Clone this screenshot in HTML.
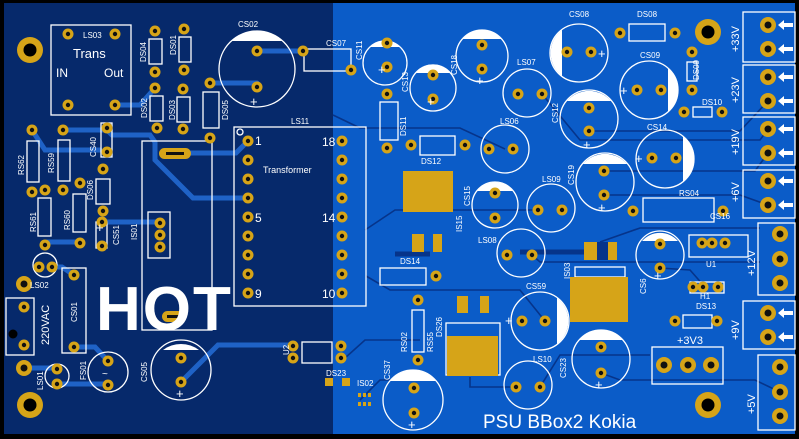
<!DOCTYPE html>
<html><head><meta charset="utf-8"><style>
html,body{margin:0;padding:0;background:#000;}
svg{display:block;}
text{font-family:"Liberation Sans",sans-serif;fill:#fff;}
</style></head><body>
<svg width="799" height="439" viewBox="0 0 799 439" xmlns="http://www.w3.org/2000/svg">
<defs>
<g id="p"><circle r="5.5" fill="#d6a418"/><circle r="2.2" fill="#111"/></g>
<g id="pl"><circle r="8" fill="#d6a418"/><circle r="3.5" fill="#111"/></g>
<g id="mh"><circle r="13" fill="#d6a418"/><circle r="6.5" fill="#000"/></g>
<g id="ar"><path d="M0,0 l6,-5 v3 h9 v4 h-9 v3 z" fill="#fff"/></g>
</defs>
<rect width="799" height="439" fill="#000"/>
<rect x="4" y="3" width="330" height="431" fill="#06296b"/>
<rect x="333" y="3" width="462" height="431" fill="#0b5cc8"/>

<!-- traces left (light) -->
<g stroke="#1f62c6" stroke-width="5" fill="none" stroke-linecap="round">
<path d="M115,105 H140 L155,88"/>
<path d="M257,51 H303"/><path d="M210,83 H257"/>
<path d="M63,130 H107 L112,135 H150 L155,142 V160 L193,198 H248"/>
<path d="M32,130 L45,150 H100"/>
<path d="M175,153 H236 L248,141"/>
<path d="M45,248 L48,242 H80"/><path d="M52,267 L62,267 L74,275"/>
<path d="M74,347 H95 L108,361"/><path d="M57,369 H60"/><path d="M57,384 H108"/>
<path d="M181,382 L218,345 H293"/>
<path d="M102,222 H160"/>
<path d="M24,368 H57"/>
</g>
<!-- traces right (dark) -->
<g stroke="#06348a" stroke-width="1.6" fill="none">
<path d="M333,115 L360,128 H460 L505,149"/>
<path d="M542,94 L580,140 H760 L768,129"/>
<path d="M589,131 H740 L768,101"/>
<path d="M604,171 H755 L768,153"/>
<path d="M604,195 H740 L768,205"/>
<path d="M538,210 H395 L365,230"/>
<path d="M532,255 L540,262 H700 L760,262"/>
<path d="M366,276 L390,290 H520 L545,321"/>
<path d="M601,373 L620,380 H755 L780,392"/>
<path d="M516,387 H470 V377"/>
<path d="M540,387 L560,355 H650"/>
<path d="M420,380 L380,380 L360,400"/>
<path d="M600,242 L640,228 H760"/>
<path d="M660,268 L690,270 L705,287"/>
<path d="M345,358 L365,340 H420"/>
</g>
<path d="M395,254 H430 M520,252 H600" stroke="#06348a" stroke-width="5"/>
<rect x="590" y="242" width="20" height="18" fill="#06348a"/>

<!-- outlines -->
<g stroke="#fff" stroke-width="1.3" fill="none">
<rect x="51" y="25" width="80" height="90"/>
<rect x="149" y="39" width="13" height="25"/><rect x="179" y="37" width="12" height="25"/>
<rect x="150" y="96" width="13" height="25"/><rect x="177" y="97" width="13" height="25"/>
<rect x="203" y="92" width="16" height="36"/>
<rect x="304" y="49" width="47" height="22"/>
<rect x="234" y="127" width="132" height="179"/>
<rect x="142" y="141" width="70" height="189"/>
<rect x="148" y="212" width="22" height="46"/>
<rect x="101" y="123" width="11" height="34"/>
<rect x="27" y="141" width="12" height="41"/><rect x="58" y="140" width="12" height="41"/>
<rect x="96" y="179" width="14" height="25"/>
<rect x="38" y="198" width="13" height="38"/><rect x="73" y="194" width="13" height="38"/>
<rect x="96" y="222" width="11" height="26"/>
<rect x="62" y="268" width="24" height="85"/>
<rect x="6" y="298" width="28" height="57"/>
<rect x="302" y="342" width="30" height="21"/>
<rect x="380" y="102" width="18" height="38"/>
<rect x="420" y="136" width="35" height="19"/>
<rect x="629" y="24" width="36" height="17"/>
<rect x="687" y="62" width="10" height="19"/>
<rect x="693" y="107" width="19" height="10"/>
<rect x="643" y="198" width="71" height="24"/>
<rect x="689" y="235" width="59" height="22"/>
<rect x="690" y="282" width="34" height="11"/>
<rect x="683" y="315" width="29" height="13"/>
<rect x="652" y="347" width="71" height="37"/>
<rect x="412" y="310" width="12" height="42"/>
<rect x="380" y="268" width="46" height="17"/>
<rect x="446" y="323" width="54" height="52"/>
<rect x="575" y="267" width="50" height="10"/>
<rect x="743" y="12" width="52" height="50"/><rect x="743" y="65" width="52" height="48"/>
<rect x="743" y="117" width="52" height="48"/><rect x="743" y="170" width="52" height="48"/>
<rect x="758" y="223" width="37" height="72"/>
<rect x="743" y="301" width="52" height="48"/>
<rect x="758" y="355" width="37" height="75"/>
<circle cx="257" cy="69" r="38"/>
<circle cx="385" cy="63" r="22"/>
<circle cx="45" cy="265" r="12"/>
<circle cx="57" cy="376" r="12"/>
<circle cx="108" cy="372" r="20"/>
<circle cx="181" cy="370" r="30"/>
<circle cx="482" cy="56" r="26"/>
<circle cx="433" cy="88" r="23"/>
<circle cx="527" cy="93" r="24"/>
<circle cx="579" cy="53" r="29"/>
<circle cx="649" cy="90" r="29"/>
<circle cx="505" cy="149" r="24"/>
<circle cx="589" cy="119" r="29"/>
<circle cx="665" cy="159" r="29"/>
<circle cx="495" cy="205" r="23"/>
<circle cx="551" cy="208" r="24"/>
<circle cx="605" cy="182" r="29"/>
<circle cx="521" cy="253" r="24"/>
<circle cx="660" cy="255" r="24"/>
<circle cx="540" cy="321" r="29"/>
<circle cx="528" cy="385" r="24"/>
<circle cx="601" cy="359" r="29"/>
<circle cx="413" cy="400" r="30"/>
<circle cx="240" cy="132" r="3"/>
</g>
<!-- white caps -->
<g fill="#fff">
<path d="M231,41 A38,38 0 0,1 283,41 Z"/>
<path d="M370,47 A22,22 0 0,1 400,47 Z"/>
<path d="M163,350 A30,30 0 0,1 199,350 Z"/>
<path d="M462,39 A26,26 0 0,1 502,39 Z"/>
<path d="M415,73 A23,23 0 0,1 451,73 Z"/>
<path d="M562,30 A29,29 0 0,0 562,76 Z"/>
<path d="M668,68 A29,29 0 0,1 668,112 Z"/>
<path d="M567,101 A29,29 0 0,1 611,101 Z"/>
<path d="M683,136 A29,29 0 0,1 683,182 Z"/>
<path d="M477,191 A23,23 0 0,1 513,191 Z"/>
<path d="M583,164 A29,29 0 0,1 627,164 Z"/>
<path d="M642,241 A24,24 0 0,1 678,241 Z"/>
<path d="M557,298 A29,29 0 0,1 557,344 Z"/>
<path d="M579,340 A29,29 0 0,1 623,340 Z"/>
<path d="M390,381 A30,30 0 0,1 436,381 Z"/>
</g>
<!-- SMD pads -->
<g fill="#d6a418">
<rect x="403" y="171" width="50" height="41"/>
<rect x="412" y="234" width="12" height="18"/><rect x="433" y="234" width="9" height="18"/>
<rect x="457" y="296" width="11" height="17"/><rect x="480" y="296" width="9" height="17"/>
<rect x="584" y="242" width="13" height="18"/><rect x="608" y="242" width="9" height="18"/>
<rect x="570" y="277" width="58" height="45"/>
<rect x="447" y="336" width="51" height="40"/>
<rect x="325" y="378" width="8" height="8"/><rect x="342" y="378" width="8" height="8"/>
<rect x="358" y="393" width="3" height="4"/><rect x="363" y="393" width="3" height="4"/><rect x="368" y="393" width="3" height="4"/>
<rect x="358" y="402" width="3" height="4"/><rect x="363" y="402" width="3" height="4"/><rect x="368" y="402" width="3" height="4"/>
<rect x="159" y="148" width="32" height="11" rx="5.5"/>
<rect x="162" y="311" width="24" height="11" rx="5.5"/>
</g>
<rect x="166" y="152" width="18" height="3" fill="#111"/>
<rect x="167" y="315" width="14" height="3" fill="#111"/>

<!-- pads -->
<g>
<use href="#mh" x="30" y="50"/><use href="#mh" x="30" y="405"/>
<use href="#mh" x="708" y="405"/><use href="#mh" x="708" y="32"/>
<use href="#p" x="68" y="34"/><use href="#p" x="115" y="34"/><use href="#p" x="68" y="105"/><use href="#p" x="115" y="105"/>
<use href="#p" x="155" y="31"/><use href="#p" x="155" y="72"/><use href="#p" x="184" y="29"/><use href="#p" x="184" y="70"/>
<use href="#p" x="155" y="88"/><use href="#p" x="157" y="128"/><use href="#p" x="183" y="89"/><use href="#p" x="183" y="129"/>
<use href="#p" x="210" y="83"/><use href="#p" x="210" y="138"/>
<use href="#p" x="257" y="51"/><use href="#p" x="257" y="87"/>
<use href="#p" x="303" y="51"/><use href="#p" x="351" y="70"/>
<use href="#p" x="387" y="43"/><use href="#p" x="387" y="67"/>
<use href="#p" x="248" y="141"/><use href="#p" x="248" y="160"/><use href="#p" x="248" y="179"/><use href="#p" x="248" y="198"/><use href="#p" x="248" y="217"/><use href="#p" x="248" y="236"/><use href="#p" x="248" y="255"/><use href="#p" x="248" y="274"/><use href="#p" x="248" y="293"/>
<use href="#p" x="342" y="141"/><use href="#p" x="342" y="160"/><use href="#p" x="342" y="179"/><use href="#p" x="342" y="198"/><use href="#p" x="342" y="217"/><use href="#p" x="342" y="236"/><use href="#p" x="342" y="255"/><use href="#p" x="342" y="274"/><use href="#p" x="342" y="293"/>
<use href="#p" x="107" y="128"/><use href="#p" x="107" y="152"/>
<use href="#p" x="32" y="130"/><use href="#p" x="32" y="192"/><use href="#p" x="63" y="130"/><use href="#p" x="63" y="190"/>
<use href="#p" x="103" y="169"/><use href="#p" x="103" y="211"/>
<use href="#p" x="45" y="190"/><use href="#p" x="80" y="183"/>
<use href="#p" x="45" y="245"/><use href="#p" x="80" y="243"/>
<use href="#p" x="102" y="222"/><use href="#p" x="102" y="246"/>
<use href="#p" x="160" y="223"/><use href="#p" x="160" y="235"/><use href="#p" x="160" y="247"/>
<use href="#p" x="39" y="267"/><use href="#p" x="52" y="267"/>
<use href="#p" x="74" y="275"/><use href="#p" x="74" y="347"/>
<use href="#pl" x="24" y="284"/><use href="#pl" x="24" y="368"/>
<use href="#p" x="24" y="307"/><use href="#p" x="24" y="345"/>
<use href="#p" x="57" y="369"/><use href="#p" x="57" y="384"/>
<use href="#p" x="108" y="361"/><use href="#p" x="108" y="385"/>
<use href="#p" x="181" y="358"/><use href="#p" x="181" y="382"/>
<use href="#p" x="293" y="346"/><use href="#p" x="293" y="358"/><use href="#p" x="341" y="346"/><use href="#p" x="341" y="358"/>
<use href="#p" x="387" y="94"/><use href="#p" x="387" y="148"/>
<use href="#p" x="482" y="45"/><use href="#p" x="482" y="69"/>
<use href="#p" x="433" y="75"/><use href="#p" x="433" y="99"/>
<use href="#p" x="518" y="94"/><use href="#p" x="542" y="94"/>
<use href="#p" x="567" y="52"/><use href="#p" x="591" y="52"/>
<use href="#p" x="620" y="33"/><use href="#p" x="675" y="33"/>
<use href="#p" x="637" y="90"/><use href="#p" x="661" y="90"/>
<use href="#p" x="692" y="52"/><use href="#p" x="692" y="90"/>
<use href="#p" x="684" y="112"/><use href="#p" x="722" y="112"/>
<use href="#pl" x="768" y="25"/><use href="#pl" x="768" y="49"/><use href="#pl" x="768" y="77"/><use href="#pl" x="768" y="101"/>
<use href="#pl" x="768" y="129"/><use href="#pl" x="768" y="153"/><use href="#pl" x="768" y="181"/><use href="#pl" x="768" y="205"/>
<use href="#p" x="489" y="149"/><use href="#p" x="513" y="149"/>
<use href="#p" x="589" y="108"/><use href="#p" x="589" y="131"/>
<use href="#p" x="652" y="158"/><use href="#p" x="676" y="158"/>
<use href="#p" x="411" y="145"/><use href="#p" x="465" y="145"/>
<use href="#p" x="495" y="193"/><use href="#p" x="495" y="218"/>
<use href="#p" x="538" y="210"/><use href="#p" x="562" y="210"/>
<use href="#p" x="604" y="171"/><use href="#p" x="604" y="195"/>
<use href="#p" x="633" y="211"/><use href="#p" x="723" y="211"/>
<use href="#p" x="507" y="255"/><use href="#p" x="532" y="255"/>
<use href="#p" x="660" y="244"/><use href="#p" x="660" y="268"/>
<use href="#p" x="702" y="243"/><use href="#p" x="712" y="243"/><use href="#p" x="725" y="243"/>
<use href="#p" x="693" y="287"/><use href="#p" x="703" y="287"/><use href="#p" x="718" y="287"/>
<use href="#p" x="675" y="321"/><use href="#p" x="717" y="321"/>
<use href="#pl" x="780" y="234"/><use href="#pl" x="780" y="259"/><use href="#pl" x="780" y="283"/>
<use href="#pl" x="768" y="313"/><use href="#pl" x="768" y="337"/>
<use href="#pl" x="780" y="367"/><use href="#pl" x="780" y="392"/><use href="#pl" x="780" y="416"/>
<use href="#pl" x="664" y="365"/><use href="#pl" x="688" y="365"/><use href="#pl" x="711" y="365"/>
<use href="#p" x="522" y="321"/><use href="#p" x="545" y="321"/>
<use href="#p" x="516" y="387"/><use href="#p" x="540" y="387"/>
<use href="#p" x="601" y="347"/><use href="#p" x="601" y="373"/>
<use href="#p" x="418" y="300"/><use href="#p" x="418" y="360"/>
<use href="#p" x="436" y="276"/>
<use href="#p" x="414" y="388"/><use href="#p" x="414" y="413"/>
</g>
<circle cx="13" cy="334" r="4.5" fill="#000"/>
<!-- arrows -->
<g>
<use href="#ar" x="778" y="25"/><use href="#ar" x="778" y="49"/><use href="#ar" x="778" y="77"/><use href="#ar" x="778" y="101"/>
<use href="#ar" x="778" y="129"/><use href="#ar" x="778" y="153"/><use href="#ar" x="778" y="181"/><use href="#ar" x="778" y="205"/>
<use href="#ar" x="778" y="313"/><use href="#ar" x="778" y="337"/>
</g>

<!-- labels -->
<g font-size="8">
<text x="83" y="38">LS03</text>
<text x="238" y="27">CS02</text>
<text x="326" y="46">CS07</text>
<text x="291" y="124">LS11</text>
<text x="569" y="17">CS08</text>
<text x="637" y="17">DS08</text>
<text x="640" y="58">CS09</text>
<text x="517" y="65">LS07</text>
<text x="500" y="124">LS06</text>
<text x="702" y="105">DS10</text>
<text x="647" y="130">CS14</text>
<text x="421" y="164">DS12</text>
<text x="542" y="182">LS09</text>
<text x="679" y="196">RS04</text>
<text x="478" y="243">LS08</text>
<text x="400" y="264">DS14</text>
<text x="526" y="289">CS59</text>
<text x="533" y="362">LS10</text>
<text x="706" y="267">U1</text>
<text x="700" y="299">H1</text>
<text x="696" y="309">DS13</text>
<text x="326" y="376">DS23</text>
<text x="357" y="386">IS02</text>
<text x="30" y="288">LS02</text>
<text x="710" y="219">CS16</text>
</g>
<g font-size="8">
<text transform="translate(146,62) rotate(-90)">DS04</text>
<text transform="translate(176,55) rotate(-90)">DS01</text>
<text transform="translate(147,118) rotate(-90)">DS02</text>
<text transform="translate(175,120) rotate(-90)">DS03</text>
<text transform="translate(228,120) rotate(-90)">DS05</text>
<text transform="translate(96,157) rotate(-90)">CS40</text>
<text transform="translate(24,175) rotate(-90)">RS62</text>
<text transform="translate(54,173) rotate(-90)">RS59</text>
<text transform="translate(93,200) rotate(-90)">DS06</text>
<text transform="translate(36,232) rotate(-90)">RS61</text>
<text transform="translate(70,230) rotate(-90)">RS60</text>
<text transform="translate(119,245) rotate(-90)">CS51</text>
<text transform="translate(137,240) rotate(-90)">IS01</text>
<text transform="translate(77,322) rotate(-90)">CS01</text>
<text transform="translate(43,390) rotate(-90)">LS01</text>
<text transform="translate(86,380) rotate(-90)">FS01</text>
<text transform="translate(147,382) rotate(-90)">CS05</text>
<text transform="translate(289,355) rotate(-90)">U2</text>
<text transform="translate(362,60) rotate(-90)">CS11</text>
<text transform="translate(408,92) rotate(-90)">CS13</text>
<text transform="translate(457,75) rotate(-90)">CS18</text>
<text transform="translate(406,136) rotate(-90)">DS11</text>
<text transform="translate(558,123) rotate(-90)">CS12</text>
<text transform="translate(574,185) rotate(-90)">CS19</text>
<text transform="translate(470,206) rotate(-90)">CS15</text>
<text transform="translate(462,232) rotate(-90)">IS15</text>
<text transform="translate(570,279) rotate(-90)">IS03</text>
<text transform="translate(646,294) rotate(-90)">CS6</text>
<text transform="translate(407,352) rotate(-90)">RS02</text>
<text transform="translate(433,352) rotate(-90)">RS55</text>
<text transform="translate(442,337) rotate(-90)">DS26</text>
<text transform="translate(566,378) rotate(-90)">CS23</text>
<text transform="translate(390,380) rotate(-90)">CS37</text>
<text transform="translate(699,80) rotate(-90)">DS09</text>
</g>
<g font-size="11">
<text transform="translate(739,52) rotate(-90)">+33V</text>
<text transform="translate(739,103) rotate(-90)">+23V</text>
<text transform="translate(739,155) rotate(-90)">+19V</text>
<text transform="translate(739,202) rotate(-90)">+6V</text>
<text transform="translate(755,276) rotate(-90)">+12V</text>
<text transform="translate(739,340) rotate(-90)">+9V</text>
<text transform="translate(755,414) rotate(-90)">+5V</text>
<text transform="translate(49,345) rotate(-90)">220VAC</text>
<text x="677" y="344">+3V3</text>
</g>
<text x="73" y="58" font-size="13">Trans</text>
<text x="56" y="77" font-size="12">IN</text>
<text x="104" y="77" font-size="12">Out</text>
<text x="263" y="173" font-size="9">Transformer</text>
<g font-size="12">
<text x="255" y="145">1</text><text x="322" y="146">18</text>
<text x="255" y="222">5</text><text x="322" y="222">14</text>
<text x="255" y="298">9</text><text x="322" y="298">10</text>
</g>
<g font-size="13">
<text x="250" y="106">+</text><text x="378" y="74">+</text><text x="176" y="398">+</text>
<text x="476" y="85">+</text><text x="427" y="106">+</text><text x="598" y="58">+</text>
<text x="620" y="95">+</text><text x="583" y="149">+</text><text x="635" y="163">+</text>
<text x="598" y="212">+</text><text x="654" y="280">+</text><text x="505" y="325">+</text>
<text x="595" y="389">+</text><text x="408" y="429">+</text><text x="96" y="232">+</text>
</g>
<text x="102" y="377" font-size="10">~</text>
<text x="96" y="330" font-size="62" font-weight="bold" letter-spacing="2">HOT</text>
<text x="483" y="428" font-size="19">PSU BBox2 Kokia</text>
</svg>
</body></html>
